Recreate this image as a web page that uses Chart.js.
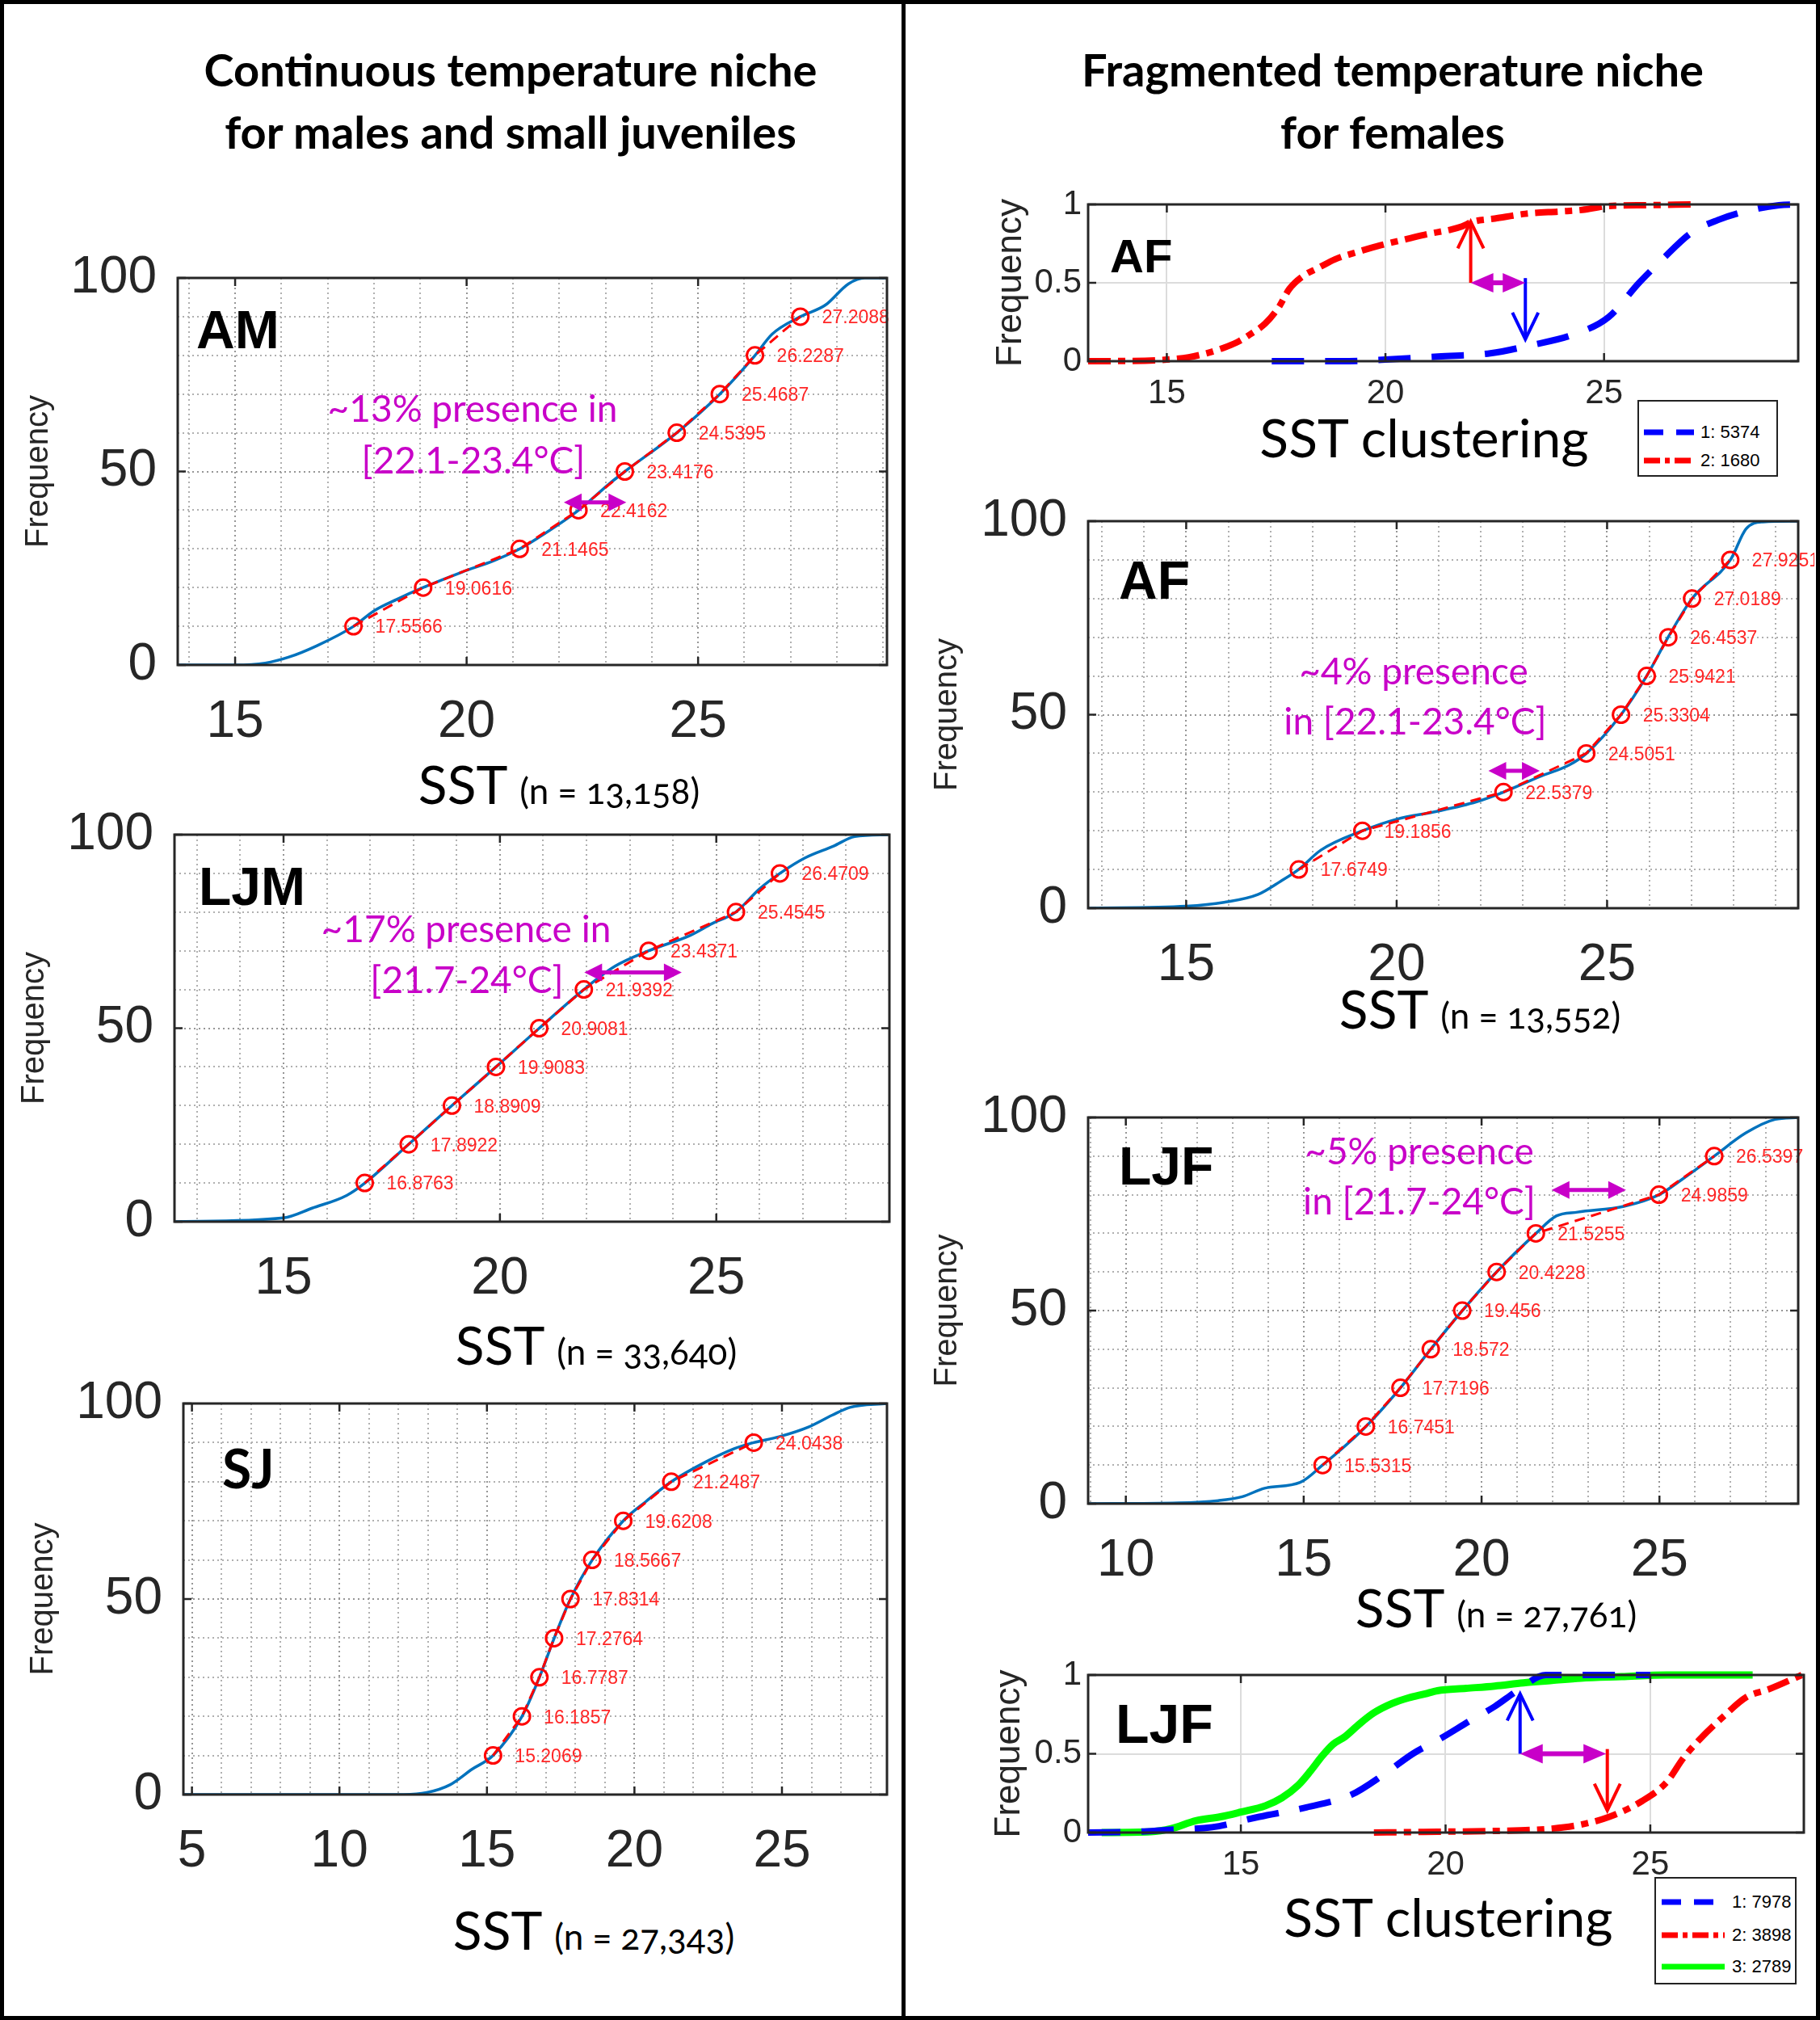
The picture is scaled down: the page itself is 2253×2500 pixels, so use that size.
<!DOCTYPE html>
<html>
<head>
<meta charset="utf-8">
<script src="https://cdn.jsdelivr.net/npm/chart.js@4.4.0/dist/chart.umd.min.js"></script>
<style>
  body { margin: 0; background: #fff; }
  #fig { position: relative; width: 2253px; height: 2500px; overflow: hidden; background: #fff; }
  #fig canvas { position: absolute; }
  .txt { position: absolute; white-space: nowrap; line-height: 1; z-index: 5; }
  .legend { position: absolute; border: 2px solid #222; background: #fff; z-index: 6; box-sizing: border-box; }
  .legend .row { position: absolute; left: 0; right: 0; height: 0; }
  .legend svg { position: absolute; overflow: visible; }
  .legend span { position: absolute; font-family: "Liberation Sans", Arial, sans-serif; font-size: 22px; line-height: 1; color: #000; transform: translateY(-50%); }
  #frame { position: absolute; left: 0; top: 0; width: 2253px; height: 2500px; border: 5px solid #000; box-sizing: border-box; z-index: 10; pointer-events: none; }
  #divider { position: absolute; left: 1116px; top: 0; width: 5px; height: 2500px; background: #000; z-index: 10; }
</style>
</head>
<body>
<div id="fig">
  <div id="frame"></div>
  <div id="divider"></div>
</div>
<script>
// ---------------------------------------------------------------------------
// data
// ---------------------------------------------------------------------------
const decileLevels = [10, 20, 30, 40, 50, 60, 70, 80, 90];
const freqTicks = [0, 50, 100];
const clusterFreqTicks = [0, 0.5, 1];

// AM - adult males
const amSst = [13.76, 15.0, 15.65, 16.15, 16.77, 17.56, 18.0, 18.5, 19.06, 19.9, 20.6, 21.15, 21.5, 22.42, 23.1, 23.42, 24.54, 25.47, 26.23, 26.6, 27.21, 27.75, 28.25, 28.6, 29.08];
const amFreq = [0, 0, 0.5, 2, 5, 10, 14, 17, 20, 24, 27, 30, 32.5, 40, 47, 50, 60, 70, 80, 85.5, 90, 93, 98.5, 100, 100];
const amDeciles = [17.5566, 19.0616, 21.1465, 22.4162, 23.4176, 24.5395, 25.4687, 26.2287, 27.2088];
const amXTicks = [15, 20, 25];
const amRange = [22.1, 23.45];
const amRangeFreq = 42;

// LJM - large juvenile males
const ljmSst = [12.48, 15.0, 15.66, 16.46, 16.88, 17.89, 18.89, 19.91, 20.91, 21.94, 22.66, 23.44, 24.4, 24.9, 25.45, 26.0, 26.47, 27.05, 27.7, 28.2, 29.0];
const ljmFreq = [0, 1, 3.5, 6.8, 10, 20, 30, 40, 50, 60, 66, 70, 74, 77, 80, 86, 90, 94, 97, 99.5, 100];
const ljmDeciles = [16.8763, 17.8922, 18.8909, 19.9083, 20.9081, 21.9392, 23.4371, 25.4545, 26.4709];
const ljmXTicks = [15, 20, 25];
const ljmRange = [21.95, 24.2];
const ljmRangeFreq = 64.4;

// SJ - small juveniles
const sjSst = [4.71, 12.18, 12.96, 13.75, 14.5, 15.21, 16.19, 16.78, 17.28, 17.83, 18.57, 19.62, 20.4, 21.25, 22.4, 23.4, 24.04, 24.9, 25.9, 26.7, 27.3, 28.56];
const sjFreq = [0, 0, 0.5, 2.5, 6.5, 10, 20, 30, 40, 50, 60, 70, 75, 80, 85, 88.5, 90, 91.5, 94, 97, 99, 100];
const sjDeciles = [15.2069, 16.1857, 16.7787, 17.2764, 17.8314, 18.5667, 19.6208, 21.2487, 24.0438];
const sjXTicks = [5, 10, 15, 20, 25];

// AF - adult females
const afSst = [12.67, 15.0, 15.9, 16.7, 17.25, 17.67, 18.2, 19.19, 20.0, 20.95, 21.9, 22.54, 23.4, 24.1, 24.51, 25.33, 25.94, 26.45, 27.02, 27.93, 28.3, 28.7, 29.54];
const afFreq = [0, 0.5, 1.5, 3.5, 7, 10, 15, 20, 23, 25, 27.5, 30, 34, 37, 40, 50, 60, 70, 80, 90, 98, 99.8, 100];
const afDeciles = [17.6749, 19.1856, 22.5379, 24.5051, 25.3304, 25.9421, 26.4537, 27.0189, 27.9251];
const afXTicks = [15, 20, 25];
const afRange = [22.18, 23.4];
const afRangeFreq = 35.5;

// LJF - large juvenile females
const ljfSst = [8.94, 11.48, 12.6, 13.27, 13.9, 14.9, 15.53, 16.75, 17.72, 18.57, 19.46, 20.42, 21.53, 22.1, 22.7, 24.0, 24.99, 25.64, 26.54, 27.43, 28.25, 28.9];
const ljfFreq = [0, 0.2, 0.8, 1.8, 4, 5.5, 10, 20, 30, 40, 50, 60, 70, 74.5, 75.5, 77, 80, 84, 90, 96, 99.5, 100];
const ljfDeciles = [15.5315, 16.7451, 17.7196, 18.572, 19.456, 20.4228, 21.5255, 24.9859, 26.5397];
const ljfXTicks = [10, 15, 20, 25];
const ljfRange = [21.97, 24.06];
const ljfRangeFreq = 81.2;

// AF clustering (2 clusters)
const afClu1Sst = [17.4, 19.0, 20.0, 21.2, 22.4, 23.3, 24.3, 25.1, 25.8, 26.3, 27.0, 27.6, 28.3, 29.0, 29.44];
const afClu1Freq = [0, 0, 0.01, 0.03, 0.05, 0.1, 0.17, 0.28, 0.5, 0.64, 0.82, 0.9, 0.96, 0.995, 1.0];
const afClu2Sst = [13.2, 14.5, 15.0, 15.5, 15.9, 16.3, 16.6, 16.9, 17.25, 17.55, 17.8, 18.1, 18.5, 18.85, 19.4, 19.9, 20.5, 20.95, 21.5, 21.75, 22.0, 22.5, 23.2, 24.0, 24.5, 25.1, 26.0, 27.0];
const afClu2Freq = [0, 0.003, 0.01, 0.025, 0.05, 0.085, 0.12, 0.17, 0.24, 0.34, 0.46, 0.54, 0.6, 0.65, 0.7, 0.74, 0.78, 0.81, 0.84, 0.86, 0.89, 0.91, 0.94, 0.955, 0.965, 0.99, 0.995, 1.0];
const afCluLegend = ['1: 5374', '2: 1680'];
const afCluXTicks = [15, 20, 25];

// LJF clustering (3 clusters)
const ljfClu1Sst = [11.27, 12.5, 13.2, 14.3, 15.45, 16.6, 17.7, 18.5, 19.2, 19.9, 20.6, 21.2, 21.75, 22.45, 25.0];
const ljfClu1Freq = [0, 0.005, 0.017, 0.034, 0.1, 0.16, 0.24, 0.37, 0.5, 0.6, 0.71, 0.8, 0.9, 1.0, 1.0];
const ljfClu2Sst = [18.25, 19.8, 21.2, 22.6, 23.3, 24.0, 24.8, 25.4, 25.8, 26.2, 26.8, 27.35, 27.9, 28.7];
const ljfClu2Freq = [0, 0.005, 0.01, 0.025, 0.05, 0.1, 0.2, 0.32, 0.47, 0.59, 0.74, 0.86, 0.91, 1.0];
const ljfClu3Sst = [11.6, 12.8, 13.3, 13.9, 14.5, 15.0, 15.6, 16.0, 16.4, 16.7, 17.0, 17.25, 17.55, 17.9, 18.25, 18.7, 19.1, 19.5, 19.8, 20.5, 21.2, 21.9, 22.6, 23.3, 24.3, 25.4, 26.5, 27.5];
const ljfClu3Freq = [0, 0.005, 0.025, 0.075, 0.1, 0.13, 0.17, 0.22, 0.3, 0.39, 0.49, 0.56, 0.61, 0.69, 0.76, 0.82, 0.855, 0.88, 0.9, 0.915, 0.93, 0.95, 0.965, 0.98, 0.99, 1.0, 1.0, 1.0];
const ljfCluLegend = ['1: 7978', '2: 3898', '3: 2789'];
const ljfCluXTicks = [15, 20, 25];

// ---------------------------------------------------------------------------
const LATO = 'Lato, "Open Sans", sans-serif';
const ARIAL = '"Liberation Sans", Arial, sans-serif';
const INK = '#262626';
const CDF_BLUE = '#0072bd';
const RED = '#ff0000';
const MAGENTA = '#c800c8';
const fig = document.getElementById('fig');

function pts(xs, ys) {
    return xs.map((x, i) => ({ x: x, y: ys[i] }));
}

function stepTicks(min, max, step) {
    const t = [];
    for (let v = Math.ceil(min / step - 1e-9) * step; v <= max + 1e-9; v += step) {
        t.push({ value: Math.round(v * 1000) / 1000 });
    }
    return t;
}

function drawHead(ctx, x, y, ang, s) {
    const bx = x - Math.cos(ang) * s.hl, by = y - Math.sin(ang) * s.hl;
    const px = -Math.sin(ang) * s.hw, py = Math.cos(ang) * s.hw;
    ctx.beginPath();
    if (s.open) {
        ctx.moveTo(bx + px, by + py);
        ctx.lineTo(x, y);
        ctx.lineTo(bx - px, by - py);
        ctx.stroke();
    } else {
        ctx.moveTo(x, y);
        ctx.lineTo(bx + px, by + py);
        ctx.lineTo(bx - px, by - py);
        ctx.closePath();
        ctx.fill();
    }
}

function drawArrow(ctx, x1, y1, x2, y2, s) {
    const ang = Math.atan2(y2 - y1, x2 - x1);
    const cut = s.open ? 0 : s.hl * 0.8;
    ctx.strokeStyle = s.color;
    ctx.fillStyle = s.color;
    ctx.lineWidth = s.width;
    ctx.setLineDash([]);
    ctx.beginPath();
    ctx.moveTo(x1 + (s.both ? Math.cos(ang) * cut : 0), y1 + (s.both ? Math.sin(ang) * cut : 0));
    ctx.lineTo(x2 - Math.cos(ang) * cut, y2 - Math.sin(ang) * cut);
    ctx.stroke();
    drawHead(ctx, x2, y2, ang, s);
    if (s.both) drawHead(ctx, x1, y1, ang + Math.PI, s);
}

// box, inward ticks, decile labels and arrows
const panelDeco = {
    id: 'panelDeco',
    afterDatasetsDraw(chart, args, o) {
        const { ctx, chartArea: a, scales: { x, y } } = chart;
        ctx.save();
        if (o.deciles) {
            ctx.font = '23px ' + ARIAL;
            ctx.fillStyle = '#ff2626';
            ctx.textBaseline = 'middle';
            ctx.textAlign = 'left';
            o.deciles.forEach((d, i) => {
                ctx.fillText(String(d), x.getPixelForValue(d) + 27, y.getPixelForValue(decileLevels[i]) + 2);
            });
        }
        (o.arrows || []).forEach(ar => {
            drawArrow(ctx, x.getPixelForValue(ar.x1), y.getPixelForValue(ar.y1),
                x.getPixelForValue(ar.x2), y.getPixelForValue(ar.y2), ar);
        });
        ctx.strokeStyle = INK;
        ctx.lineWidth = 3;
        ctx.setLineDash([]);
        ctx.strokeRect(a.left, a.top, a.right - a.left, a.bottom - a.top);
        ctx.lineWidth = 2.5;
        ctx.beginPath();
        o.xMajor.forEach(v => {
            const px = x.getPixelForValue(v);
            ctx.moveTo(px, a.bottom); ctx.lineTo(px, a.bottom - 10);
            ctx.moveTo(px, a.top); ctx.lineTo(px, a.top + 10);
        });
        o.yMajor.forEach(v => {
            const py = y.getPixelForValue(v);
            ctx.moveTo(a.left, py); ctx.lineTo(a.left + 10, py);
            ctx.moveTo(a.right, py); ctx.lineTo(a.right - 10, py);
        });
        ctx.stroke();
        ctx.restore();
    }
};

function makeCanvas(cv) {
    const c = document.createElement('canvas');
    c.width = cv.right - cv.left;
    c.height = cv.bottom - cv.top;
    c.style.left = cv.left + 'px';
    c.style.top = cv.top + 'px';
    fig.appendChild(c);
    return c;
}

// the axes are forced to fixed sizes so the plot box lands exactly where it is in the figure
function axes(plot, cv, p) {
    return {
        x: {
            type: 'linear', min: p.xMin, max: p.xMax,
            afterBuildTicks: s => { s.ticks = p.xGridTicks; },
            afterFit: s => { s.height = cv.bottom - plot.bottom; s.paddingLeft = 0; s.paddingRight = 0; },
            ticks: {
                callback: v => p.xMajor.includes(v) ? String(v) : '',
                autoSkip: false, maxRotation: 0, minRotation: 0,
                padding: p.xPad, color: INK,
                font: { family: ARIAL, size: p.tickSize }
            },
            grid: {
                drawTicks: false, lineWidth: p.gridWidth,
                color: c => (c.tick && p.xMajor.includes(c.tick.value)) ? p.majorGrid : p.minorGrid
            },
            border: { display: false, dash: p.gridDash }
        },
        y: {
            type: 'linear', min: p.yMin, max: p.yMax,
            afterBuildTicks: s => { s.ticks = p.yGridTicks; },
            afterFit: s => { s.width = plot.left - cv.left; s.paddingTop = 0; s.paddingBottom = 0; },
            ticks: {
                callback: v => p.yMajor.includes(v) ? String(v) : '',
                autoSkip: false, padding: p.yPad, color: INK,
                font: { family: ARIAL, size: p.tickSize }
            },
            grid: {
                drawTicks: false, lineWidth: p.gridWidth,
                color: c => (c.tick && p.yMajor.includes(c.tick.value)) ? p.majorGrid : p.minorGrid
            },
            border: { display: false, dash: p.gridDash },
            title: {
                display: true, text: 'Frequency', color: INK,
                font: { family: ARIAL, size: p.titleSize },
                padding: { top: p.titlePad, bottom: 0 }
            }
        }
    };
}

function cdfPanel(plot, cv, xMin, xMax, xMajor, sst, freq, deciles, arrows, titlePad) {
    const scales = axes(plot, cv, {
        xMin: xMin, xMax: xMax, yMin: 0, yMax: 100,
        xMajor: xMajor, yMajor: freqTicks,
        xGridTicks: stepTicks(xMin, xMax, 1), yGridTicks: stepTicks(0, 100, 10),
        xPad: 33, yPad: 26, tickSize: 64, titleSize: 40, titlePad: titlePad,
        gridWidth: 2, gridDash: [2, 4], majorGrid: '#969696', minorGrid: '#b0b0b0'
    });
    new Chart(makeCanvas(cv), {
        type: 'scatter',
        data: {
            datasets: [
                {
                    data: pts(deciles, decileLevels), showLine: true,
                    borderColor: RED, borderWidth: 3, borderDash: [13, 8],
                    pointRadius: 10, pointHoverRadius: 10, pointBorderWidth: 3,
                    pointBorderColor: RED, pointBackgroundColor: 'rgba(0,0,0,0)'
                },
                {
                    data: pts(sst, freq), showLine: true,
                    borderColor: CDF_BLUE, borderWidth: 3.5, pointRadius: 0,
                    cubicInterpolationMode: 'monotone'
                }
            ]
        },
        options: {
            responsive: false, animation: false, devicePixelRatio: 1,
            layout: { padding: { left: 0, top: plot.top - cv.top, right: cv.right - plot.right, bottom: 0 } },
            plugins: {
                legend: { display: false }, tooltip: { enabled: false },
                panelDeco: { deciles: deciles, arrows: arrows, xMajor: xMajor, yMajor: freqTicks }
            },
            scales: scales
        },
        plugins: [panelDeco]
    });
}

function clusterPanel(plot, cv, xMin, xMax, xMajor, sets, arrows, titlePad) {
    const scales = axes(plot, cv, {
        xMin: xMin, xMax: xMax, yMin: 0, yMax: 1,
        xMajor: xMajor, yMajor: clusterFreqTicks,
        xGridTicks: xMajor.map(v => ({ value: v })), yGridTicks: clusterFreqTicks.map(v => ({ value: v })),
        xPad: 15, yPad: 8, tickSize: 42, titleSize: 44, titlePad: titlePad,
        gridWidth: 2, gridDash: [], majorGrid: '#dcdcdc', minorGrid: '#dcdcdc'
    });
    new Chart(makeCanvas(cv), {
        type: 'scatter',
        data: {
            datasets: sets.map(s => ({
                data: pts(s.x, s.y), showLine: true, pointRadius: 0,
                borderColor: s.color, borderWidth: s.width, borderDash: s.dash,
                cubicInterpolationMode: 'monotone', clip: 12
            }))
        },
        options: {
            responsive: false, animation: false, devicePixelRatio: 1,
            layout: { padding: { left: 0, top: plot.top - cv.top, right: cv.right - plot.right, bottom: 0 } },
            plugins: {
                legend: { display: false }, tooltip: { enabled: false },
                panelDeco: { arrows: arrows, xMajor: xMajor, yMajor: clusterFreqTicks }
            },
            scales: scales
        },
        plugins: [panelDeco]
    });
}

function addText(html, x, baseline, size, o) {
    o = o || {};
    const fam = o.family || LATO;
    const asc = fam === ARIAL ? 0.8465 : 0.887;
    const d = document.createElement('div');
    d.className = 'txt';
    d.innerHTML = html;
    d.style.left = x + 'px';
    d.style.top = (baseline - asc * size) + 'px';
    d.style.fontSize = size + 'px';
    d.style.fontFamily = fam;
    d.style.fontWeight = o.weight || 400;
    d.style.color = o.color || '#000';
    if (o.align !== 'left') d.style.transform = 'translateX(-50%)';
    fig.appendChild(d);
}

function sstTitle(n, cx, baseline) {
    addText('SST <span style="font-size:44px;font-variant-numeric:oldstyle-nums">(n = ' + n + ')</span>', cx, baseline, 66);
}

function addLegend(box, labels, styles, rows) {
    const d = document.createElement('div');
    d.className = 'legend';
    d.style.left = box.left + 'px';
    d.style.top = box.top + 'px';
    d.style.width = (box.right - box.left) + 'px';
    d.style.height = (box.bottom - box.top) + 'px';
    labels.forEach((lab, i) => {
        const r = document.createElement('div');
        r.className = 'row';
        r.style.top = rows.y[i] + 'px';
        const st = styles[i];
        r.innerHTML = '<svg width="' + rows.len + '" height="2" style="left:' + rows.x0 + 'px;top:-1px">' +
            '<line x1="0" y1="1" x2="' + rows.len + '" y2="1" stroke="' + st.color + '" stroke-width="' + st.w +
            '" stroke-dasharray="' + st.dash.join(' ') + '"/></svg>' +
            '<span style="left:' + rows.tx + 'px">' + lab + '</span>';
        d.appendChild(r);
    });
    fig.appendChild(d);
}

// ---------------------------------------------------------------------------
// left column
// ---------------------------------------------------------------------------
addText('Continuous temperature niche', 632, 108, 56, { weight: 700 });
addText('for males and small juveniles', 632, 185, 56, { weight: 700 });

const rangeArrow = { color: MAGENTA, width: 5, hl: 22, hw: 11, both: true };

cdfPanel({ left: 220, top: 344, right: 1098, bottom: 823 }, { left: 8, top: 284, right: 1114, bottom: 933 },
    13.76, 29.08, amXTicks, amSst, amFreq, amDeciles,
    [Object.assign({ x1: amRange[0], y1: amRangeFreq, x2: amRange[1], y2: amRangeFreq }, rangeArrow)], 16);
addText('AM', 243, 431, 66, { family: ARIAL, weight: 700, align: 'left' });
addText('~13% presence in', 585, 523, 46, { color: MAGENTA });
addText('[22.1-23.4&deg;C]', 586, 587, 46, { color: MAGENTA });
sstTitle('13,158', 692, 996);

cdfPanel({ left: 216, top: 1033, right: 1104, bottom: 1512 }, { left: 8, top: 973, right: 1114, bottom: 1622 },
    12.48, 29.0, ljmXTicks, ljmSst, ljmFreq, ljmDeciles,
    [Object.assign({ x1: ljmRange[0], y1: ljmRangeFreq, x2: ljmRange[1], y2: ljmRangeFreq }, rangeArrow)], 11);
addText('LJM', 246, 1120, 66, { family: ARIAL, weight: 700, align: 'left' });
addText('~17% presence in', 577, 1167, 46, { color: MAGENTA });
addText('[21.7-24&deg;C]', 578, 1230, 46, { color: MAGENTA });
sstTitle('33,640', 738, 1690);

cdfPanel({ left: 227, top: 1737, right: 1098, bottom: 2221 }, { left: 8, top: 1677, right: 1114, bottom: 2331 },
    4.71, 28.56, sjXTicks, sjSst, sjFreq, sjDeciles, [], 22);
addText('SJ', 275, 1843, 66, { weight: 700, align: 'left' });
sstTitle('27,343', 735, 2414);

// ---------------------------------------------------------------------------
// right column
// ---------------------------------------------------------------------------
addText('Fragmented temperature niche', 1724, 108, 56, { weight: 700 });
addText('for females', 1724, 185, 56, { weight: 700 });

const BLUE = '#0000ff';
const GREEN = '#00ff00';
const blueDash = [40, 26];
const redDashDot = [28, 9, 9, 9];

clusterPanel({ left: 1347, top: 253, right: 2226, bottom: 447 }, { left: 1124, top: 200, right: 2246, bottom: 530 },
    13.2, 29.44, afCluXTicks,
    [
        { x: afClu1Sst, y: afClu1Freq, color: BLUE, width: 8, dash: blueDash },
        { x: afClu2Sst, y: afClu2Freq, color: RED, width: 8, dash: redDashDot }
    ],
    [
        { x1: 21.95, y1: 0.5, x2: 21.95, y2: 0.89, color: RED, width: 4, hl: 33, hw: 16, open: true },
        { x1: 23.2, y1: 0.53, x2: 23.2, y2: 0.14, color: BLUE, width: 4, hl: 33, hw: 16, open: true },
        { x1: 21.95, y1: 0.5, x2: 23.2, y2: 0.5, color: MAGENTA, width: 6, hl: 28, hw: 12, both: true }
    ], 101);
addText('AF', 1374, 337, 58, { family: ARIAL, weight: 700, align: 'left' });
addText('SST clustering', 1763, 567, 66);
addLegend({ left: 2027, top: 495, right: 2201, bottom: 590 }, afCluLegend,
    [{ color: BLUE, w: 7, dash: [24, 16] }, { color: RED, w: 7, dash: [20, 6, 6, 6] }],
    { y: [38, 73], x0: 6, len: 62, tx: 76 });

cdfPanel({ left: 1347, top: 645, right: 2226, bottom: 1124 }, { left: 1124, top: 585, right: 2246, bottom: 1234 },
    12.67, 29.54, afXTicks, afSst, afFreq, afDeciles,
    [Object.assign({ x1: afRange[0], y1: afRangeFreq, x2: afRange[1], y2: afRangeFreq }, rangeArrow)], 25);
addText('AF', 1385, 741, 66, { family: ARIAL, weight: 700, align: 'left' });
addText('~4% presence', 1750, 848, 46, { color: MAGENTA });
addText('in [22.1-23.4&deg;C]', 1752, 910, 46, { color: MAGENTA });
sstTitle('13,552', 1832, 1274);

cdfPanel({ left: 1347, top: 1383, right: 2226, bottom: 1861 }, { left: 1124, top: 1323, right: 2246, bottom: 1971 },
    8.94, 28.9, ljfXTicks, ljfSst, ljfFreq, ljfDeciles,
    [Object.assign({ x1: ljfRange[0], y1: ljfRangeFreq, x2: ljfRange[1], y2: ljfRangeFreq }, rangeArrow)], 25);
addText('LJF', 1385, 1466, 66, { family: ARIAL, weight: 700, align: 'left' });
addText('~5% presence', 1757, 1442, 46, { color: MAGENTA });
addText('in [21.7-24&deg;C]', 1757, 1504, 46, { color: MAGENTA });
sstTitle('27,761', 1852, 2015);

clusterPanel({ left: 1347, top: 2073, right: 2233, bottom: 2268 }, { left: 1124, top: 2020, right: 2246, bottom: 2350 },
    11.27, 28.75, ljfCluXTicks,
    [
        { x: ljfClu1Sst, y: ljfClu1Freq, color: BLUE, width: 8, dash: blueDash },
        { x: ljfClu2Sst, y: ljfClu2Freq, color: RED, width: 8, dash: redDashDot },
        { x: ljfClu3Sst, y: ljfClu3Freq, color: GREEN, width: 9, dash: [] }
    ],
    [
        { x1: 21.82, y1: 0.5, x2: 21.82, y2: 0.88, color: BLUE, width: 4, hl: 33, hw: 16, open: true },
        { x1: 23.95, y1: 0.53, x2: 23.95, y2: 0.14, color: RED, width: 4, hl: 33, hw: 16, open: true },
        { x1: 21.82, y1: 0.5, x2: 23.92, y2: 0.5, color: MAGENTA, width: 6, hl: 28, hw: 12, both: true }
    ], 99);
addText('LJF', 1381, 2157, 68, { family: ARIAL, weight: 700, align: 'left' });
addText('SST clustering', 1793, 2398, 66);
addLegend({ left: 2048, top: 2323, right: 2224, bottom: 2456 }, ljfCluLegend,
    [{ color: BLUE, w: 7, dash: [24, 16] }, { color: RED, w: 7, dash: [20, 6, 6, 6] }, { color: GREEN, w: 7, dash: [] }],
    { y: [29, 70, 109], x0: 7, len: 78, tx: 94 });
</script>
</body>
</html>
